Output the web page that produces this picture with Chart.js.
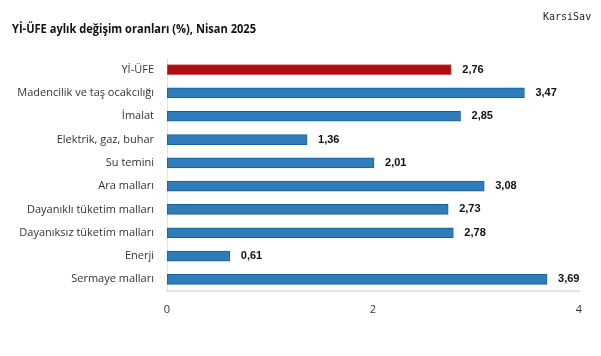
<!DOCTYPE html>
<html><head><meta charset="utf-8">
<script src="https://cdn.jsdelivr.net/npm/chart.js@4/dist/chart.umd.min.js"></script>
<style>html,body{margin:0;padding:0;background:#fff;}#wrap{width:601px;height:356px;position:relative;}</style>
</head><body><div id="wrap"><canvas id="c" width="601" height="356"></canvas></div>
<script>
const categories = ["Yİ-ÜFE","Madencilik ve taş ocakcılığı","İmalat","Elektrik, gaz, buhar","Su temini","Ara malları","Dayanıklı tüketim malları","Dayanıksız tüketim malları","Enerji","Sermaye malları"];
const values = [2.76,3.47,2.85,1.36,2.01,3.08,2.73,2.78,0.61,3.69];
const xTicks = [0,2,4];
const titleText = "Yİ-ÜFE aylık değişim oranları (%), Nisan 2025";
const watermark = "KarsiSav";

const fill = categories.map((c,i)=> i===0 ? '#ac0c12' : '#2e7dba');
const border = categories.map((c,i)=> i===0 ? '#c75a5e' : '#1b5e9c');

const extras = {
  id:'extras',
  afterDraw(chart){
    const ctx = chart.ctx;
    ctx.save();
    ctx.fillStyle = '#111';
    ctx.font = 'bold 13px "Open Sans"';
    ctx.textBaseline = 'middle';
    ctx.textAlign = 'left';
    const w = ctx.measureText(titleText).width;
    ctx.save();
    ctx.translate(12, 29);
    ctx.scale(244 / w, 1);
    ctx.fillText(titleText, 0, 0);
    ctx.restore();
    ctx.font = '10px "DejaVu Sans Mono"';
    ctx.fillStyle = '#222';
    ctx.fillText(watermark, 543, 17);
    const meta = chart.getDatasetMeta(0);
    ctx.font = 'bold 11px "Liberation Sans"';
    ctx.fillStyle = '#111';
    meta.data.forEach((bar,i)=>{
      ctx.fillText(values[i].toFixed(2).replace('.',','), bar.x + 11, bar.y);
    });
    ctx.restore();
  }
};

new Chart(document.getElementById('c'), {
  type:'bar',
  data:{labels:categories, datasets:[{data:values, backgroundColor:fill, borderColor:border, borderWidth:1, barThickness:10, borderSkipped:false}]},
  options:{
    indexAxis:'y', responsive:false, animation:false,
    layout:{padding:{top:58,right:22,left:0,bottom:0}},
    plugins:{legend:{display:false},title:{display:false},tooltip:{enabled:false}},
    scales:{
      x:{min:0,max:4,
        afterBuildTicks(s){ s.ticks = xTicks.map(v=>({value:v})); },
        grid:{display:false,drawTicks:false},
        border:{display:true,color:'#e3e3e3',width:2},
        ticks:{padding:12,color:'#333',font:{family:'"Open Sans"',size:11}},
        afterFit(s){ s.height = 65; }
      },
      y:{
        grid:{display:false,drawTicks:false},
        border:{display:true,color:'#e3e3e3',width:1},
        ticks:{padding:13,color:'#333',font:{family:'"Open Sans"',size:11}},
        afterFit(s){ s.width = 167; }
      }
    }
  },
  plugins:[extras]
});
</script></body></html>
